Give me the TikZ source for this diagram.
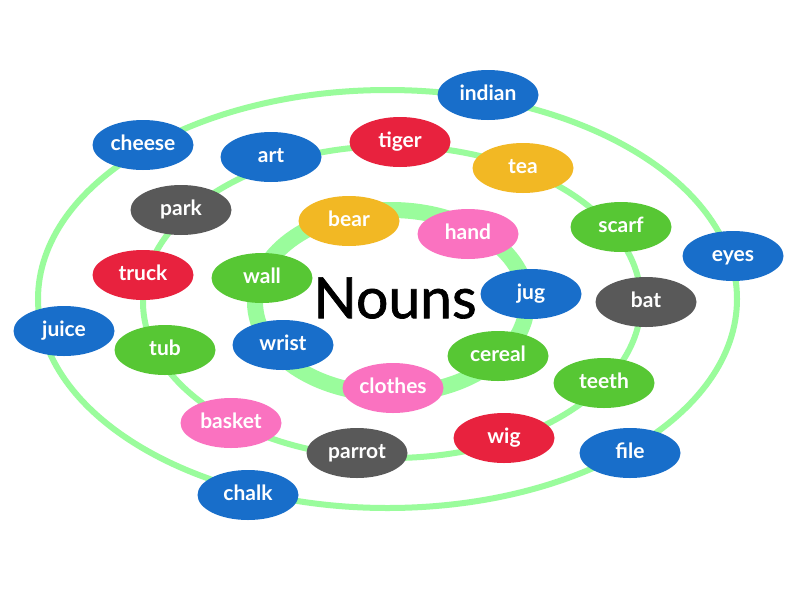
\documentclass[tikz,border=0pt]{standalone}
\usepackage{fontspec}
\setmainfont{Lato}
\newfontfamily\titlefont{Lato}[FakeBold=1.2]
\usetikzlibrary{shapes.geometric}
\definecolor{cblue}{RGB}{24,110,202}
\definecolor{cred}{RGB}{232,34,62}
\definecolor{cyellow}{RGB}{242,184,36}
\definecolor{cpink}{RGB}{250,114,192}
\definecolor{cgreen}{RGB}{87,199,52}
\definecolor{cgray}{RGB}{89,89,89}
\definecolor{ringgreen}{RGB}{154,252,156}
\begin{document}
\begin{tikzpicture}[x=1pt,y=-1pt,
  word/.style={ellipse, fill=#1, minimum width=101pt, minimum height=50pt,
    inner sep=0pt, text=white, text height=10.5pt, text depth=0pt,
    font=\fontsize{21}{23}\selectfont\bfseries},
  ring/.style={draw=ringgreen, line width=#1}]
\useasboundingbox (0,0) rectangle (800,600);
\fill[white] (0,0) rectangle (800,600);
% rings
\draw[ring=6pt] (387.5,299) ellipse [x radius=349.5pt, y radius=209pt];
\draw[ring=6pt] (392,302) ellipse [x radius=249pt, y radius=156pt];
\draw[ring=16pt] (391,302) ellipse [x radius=136pt, y radius=92pt];
% title
\node[inner sep=0pt, font=\titlefont\fontsize{57}{60}\selectfont] (nouns) at (395,298) {Nouns};
% words
\node[word=cblue]   (indian)  at (488,95)  {indian};
\node[word=cblue]   (cheese)  at (143,145) {cheese};
\node[word=cblue]   (art)     at (271,157) {art};
\node[word=cred]    (tiger)   at (400,142) {tiger};
\node[word=cyellow] (tea)     at (523,168) {tea};
\node[word=cgray]   (park)    at (181,210) {park};
\node[word=cyellow] (bear)    at (349,221) {bear};
\node[word=cpink]   (hand)    at (468,234) {hand};
\node[word=cgreen]  (scarf)   at (621,227) {scarf};
\node[word=cblue]   (eyes)    at (733,256) {eyes};
\node[word=cred]    (truck)   at (143,275) {truck};
\node[word=cgreen]  (wall)    at (262,278) {wall};
\node[word=cblue]   (jug)     at (531,294) {jug};
\node[word=cgray]   (bat)     at (646,302) {bat};
\node[word=cblue]   (juice)   at (64,331)  {juice};
\node[word=cgreen]  (tub)     at (165,350) {tub};
\node[word=cblue]   (wrist)   at (283,345) {wrist};
\node[word=cgreen]  (cereal)  at (498,356) {cereal};
\node[word=cgreen]  (teeth)   at (604,383) {teeth};
\node[word=cpink]   (clothes) at (393,388) {clothes};
\node[word=cpink]   (basket)  at (231,423) {basket};
\node[word=cgray]   (parrot)  at (357,453) {parrot};
\node[word=cred]    (wig)     at (504,438) {wig};
\node[word=cblue]   (file)    at (630,453) {file};
\node[word=cblue]   (chalk)   at (248,495) {chalk};
\end{tikzpicture}
\end{document}
